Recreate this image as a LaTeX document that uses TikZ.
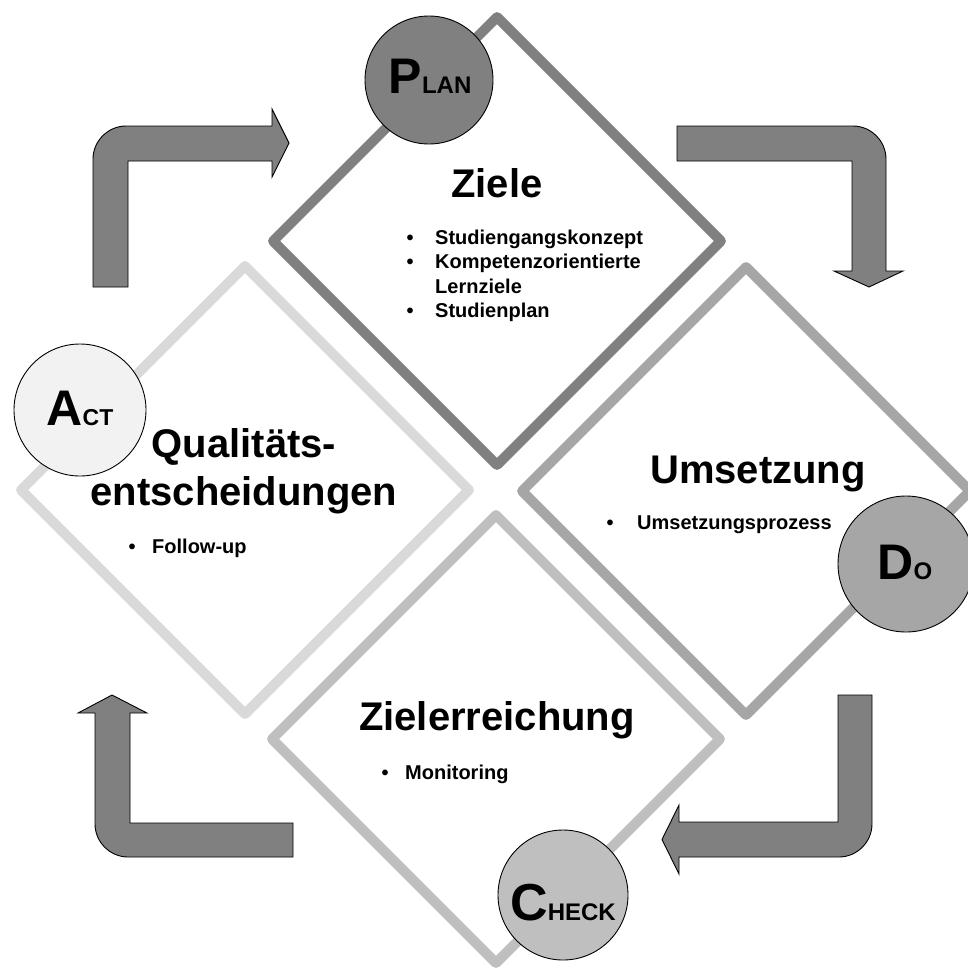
\documentclass[tikz,border=0pt]{standalone}
\usepackage{fontspec}
\setmainfont{Liberation Sans}
\usetikzlibrary{shapes.geometric}
\definecolor{gPlan}{HTML}{808080}
\definecolor{gAct}{HTML}{D9D9D9}
\definecolor{gDo}{HTML}{A6A6A6}
\definecolor{gCheck}{HTML}{BFBFBF}
\definecolor{gActFill}{HTML}{F2F2F2}
\begin{document}
\begin{tikzpicture}[x=1pt,y=-1pt,
  dia/.style={diamond, draw, line width=10pt, line join=round, fill=white,
    minimum width=452pt, minimum height=452pt, inner sep=0pt, aspect=1},
  ring/.style={circle, draw=black, line width=0.9pt, inner sep=0pt},
  arr/.style={fill=gPlan, draw=black, line width=0.9pt},
  ttl/.style={font=\bfseries\fontsize{40}{48}\selectfont, inner sep=0pt, anchor=base},
  itm/.style={font=\bfseries\fontsize{20}{24}\selectfont, inner sep=0pt, anchor=base west},
  bul/.style={font=\bfseries\fontsize{20}{24}\selectfont, inner sep=0pt, anchor=base},
  lbl/.style={font=\bfseries, inner sep=0pt, anchor=base}]
\clip (0,0) rectangle (968,967);
\fill[white] (0,0) rectangle (968,967);
% diamonds
\node[dia, draw=gAct]   (act)   at (245,490) {};
\node[dia, draw=gPlan]  (plan)  at (497,241) {};
\node[dia, draw=gDo]    (do)    at (746,491) {};
\node[dia, draw=gCheck] (check) at (496,739) {};
% bent arrows
\draw[arr] (93,287) -- (93,159) .. controls (93,141) and (108,126) .. (126,126)
  -- (272,126) -- (272,109) -- (289,143) -- (272,177) -- (272,161)
  -- (128,161) -- (128,287) -- cycle;
\draw[arr] (677,126) -- (853,126) .. controls (871,126) and (886,141) .. (886,159)
  -- (886,271) -- (903,271) -- (869,287) -- (834,271) -- (852,271)
  -- (852,161) -- (677,161) -- cycle;
\draw[arr] (838,695) -- (872,695) -- (872,824) .. controls (872,842) and (857,857) .. (839,857)
  -- (679,857) -- (679,874) -- (662,839.5) -- (679,805) -- (679,822)
  -- (838,822) -- cycle;
\draw[arr] (112,695) -- (147,713) -- (130,713) -- (130,823) -- (293,823)
  -- (293,857) -- (128,857) .. controls (110,857) and (95,842) .. (95,824)
  -- (95,713) -- (78,713) -- cycle;
% circles
\node[ring, fill=gPlan,    minimum size=128pt] (cplan)  at (429,80)  {};
\node[ring, fill=gActFill, minimum size=132pt] (cact)   at (80,410)  {};
\node[ring, fill=gDo,      minimum size=136pt] (cdo)    at (906,564) {};
\node[ring, fill=gCheck,   minimum size=130pt] (ccheck) at (563,895) {};
% circle labels
\node[lbl] (lplan) at (430,93) {{\fontsize{50}{50}\selectfont P}{\fontsize{24}{24}\selectfont LAN}};
\node[lbl] (lact) at (80,425) {{\fontsize{50}{50}\selectfont A}{\fontsize{23}{23}\selectfont CT}};
\node[lbl] (ldo) at (905,579) {{\fontsize{50}{50}\selectfont D}{\fontsize{24}{24}\selectfont O}};
\node[lbl] (lcheck) at (563,920) {{\fontsize{52}{52}\selectfont C}{\fontsize{24}{24}\selectfont HECK}};
% Plan text
\node[ttl] (tplan) at (497,197) {Ziele};
\node[bul] (bp1) at (410,244) {•};
\node[itm] (ip1) at (435,244) {Studiengangskonzept};
\node[bul] (bp2) at (410,268) {•};
\node[itm] (ip2) at (435,268) {Kompetenzorientierte};
\node[itm] (ip3) at (435,293) {Lernziele};
\node[bul] (bp4) at (410,317) {•};
\node[itm] (ip4) at (435,317) {Studienplan};
% Act text
\node[ttl] (tact1) at (244,457) {Qualitäts-};
\node[ttl] (tact2) at (244,505) {entscheidungen};
\node[bul] (ba1) at (132,553) {•};
\node[itm] (ia1) at (152,553) {Follow-up};
% Do text
\node[ttl] (tdo) at (758,483) {Umsetzung};
\node[bul] (bd1) at (610,529) {•};
\node[itm] (id1) at (637,529) {Umsetzungsprozess};
% Check text
\node[ttl] (tcheck) at (497,730) {Zielerreichung};
\node[bul] (bc1) at (385,779) {•};
\node[itm] (ic1) at (405,779) {Monitoring};
\end{tikzpicture}
\end{document}
